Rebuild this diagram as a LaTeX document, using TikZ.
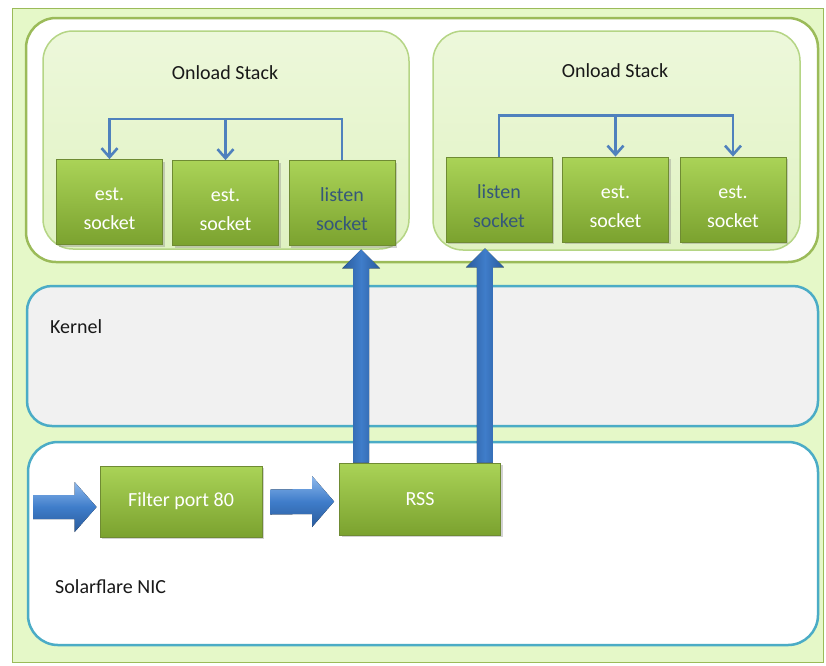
\documentclass[tikz,border=0pt]{standalone}
\usepackage{fontspec}
\setmainfont{Carlito}
\usetikzlibrary{calc,arrows.meta,shadows}
\definecolor{bgGreen}{HTML}{E5F8C8}
\definecolor{frameGreen}{HTML}{9BBB59}
\definecolor{stackFillTop}{HTML}{EDF8DB}
\definecolor{stackFillBot}{HTML}{E0F2C2}
\definecolor{stackLine}{HTML}{B5D585}
\definecolor{boxTop}{HTML}{AAD357}
\definecolor{boxBot}{HTML}{7BA22F}
\definecolor{boxLine}{HTML}{6F8B33}
\definecolor{kernFill}{HTML}{F1F1F1}
\definecolor{tealLine}{HTML}{4BACC6}
\definecolor{linkBlue}{HTML}{4F81BD}
\definecolor{darkBlue}{HTML}{2A5B9C}
\definecolor{midBlue}{HTML}{3F7DCA}
\definecolor{lightBlue}{HTML}{8DB8EC}
\definecolor{listenText}{HTML}{35577A}
\newcommand\myUpArrow[2]{%
  \fill[vblock] ($(#1)+(-8,0)$) -- ($(#2)+(-8,19)$) -- ($(#2)+(-19,19)$) -- (#2)
    -- ($(#2)+(19,19)$) -- ($(#2)+(8,19)$) -- ($(#1)+(8,0)$) -- cycle;}
\newcommand\myRightArrow[4]{% from, to, shaft half, head half
  \fill[hblock] ($(#1)+(0,-#3)$) -- ($(#2)+(-22,-#3)$) -- ($(#2)+(-22,-#4)$) -- (#2)
    -- ($(#2)+(-22,#4)$) -- ($(#2)+(-22,#3)$) -- ($(#1)+(0,#3)$) -- cycle;}
\newcommand\twoline[2]{\rule{0pt}{27pt}#1\\#2}
\tikzset{
  lbl/.style={font=\fontsize{20}{24}\selectfont, text=black!90, inner sep=0pt},
  greenbox/.style={draw=boxLine, line width=0.8pt, top color=boxTop, bottom color=boxBot,
    align=center, text=white, font=\fontsize{20}{29}\selectfont, inner sep=2pt,
    drop shadow={opacity=0.35, shadow xshift=2pt, shadow yshift=-2pt}},
  sockbox/.style={greenbox, minimum width=106pt, minimum height=85pt},
  listenbox/.style={sockbox, text=listenText},
  stackbox/.style={draw=stackLine, line width=1.5pt, top color=stackFillTop, bottom color=stackFillBot,
    rounded corners=30pt},
  bracketline/.style={draw=linkBlue, line width=2.6pt, -{Straight Barb[length=9pt,width=16pt]}},
  vblock/.style={left color=darkBlue, right color=darkBlue, middle color=midBlue},
  hblock/.style={top color=lightBlue, bottom color=darkBlue, middle color=midBlue},
}
\begin{document}
\begin{tikzpicture}[x=1pt,y=-1pt]
\useasboundingbox (0,0) rectangle (826,665);
% outer background
\draw[fill=bgGreen, draw=frameGreen, line width=1pt] (12,8) rectangle (823,662);
% top container
\draw[fill=white, draw=frameGreen, line width=2.5pt, rounded corners=30pt] (26,18) rectangle (818,262);
% onload stacks
\draw[stackbox] (43,31) rectangle (409,249);
\draw[stackbox] (433,31) rectangle (800,250);
\node[lbl] (os1) at (225,73) {Onload Stack};
\node[lbl] (os2) at (615,71) {Onload Stack};
% sockets
\node[sockbox] (e1L) at (109.5,202) {\twoline{est.}{socket}};
\node[sockbox] (e2L) at (225.5,203) {\twoline{est.}{socket}};
\node[listenbox] (lsL) at (342,203) {\twoline{listen}{socket}};
\node[listenbox] (lsR) at (499,199.5) {\twoline{listen}{socket}};
\node[sockbox] (e1R) at (615.5,199.5) {\twoline{est.}{socket}};
\node[sockbox] (e2R) at (733,199.5) {\twoline{est.}{socket}};
% brackets
\draw[bracketline] (lsL.north) -- ++(0,-41) coordinate (bL) -| (e1L.north);
\draw[bracketline] (e2L.north |- bL) -- (e2L.north);
\draw[bracketline] (lsR.north) -- ++(0,-41) coordinate (bR) -| (e2R.north);
\draw[bracketline] (e1R.north |- bR) -- (e1R.north);
% kernel
\draw[fill=kernFill, draw=tealLine, line width=2.5pt, rounded corners=25pt] (27,286) rectangle (818,426);
\node[lbl, anchor=west] (kern) at (50,327) {Kernel};
% NIC
\draw[fill=white, draw=tealLine, line width=2.5pt, rounded corners=30pt] (28,442) rectangle (818,645);
\node[lbl, anchor=west] (nic) at (55,587) {Solarflare NIC};
\node[greenbox, minimum width=162pt, minimum height=71pt] (filter) at (181,501.5) {Filter port 80};
\node[greenbox, minimum width=161pt, minimum height=72pt] (rss) at (420,499) {RSS};
% block arrows
\coordinate (in) at (33,507);
\coordinate (inTip) at ($(filter.west)+(-3,5.5)$);
\myRightArrow{in}{inTip}{12}{25}
\coordinate (f2s) at ($(filter.east)+(8,0.5)$);
\coordinate (f2sTip) at ($(rss.west)+(-5,2.5)$);
\myRightArrow{f2s}{f2sTip}{12.5}{25.5}
% vertical arrows
\coordinate (upL) at ($(rss.north west)+(22,0)$);
\coordinate (upLTip) at ($(upL |- lsL.south)+(0,3.5)$);
\myUpArrow{upL}{upLTip}
\coordinate (upR) at ($(rss.north east)+(-16,0)$);
\coordinate (upRTip) at ($(upR |- lsR.south)+(0,6)$);
\myUpArrow{upR}{upRTip}
\end{tikzpicture}
\end{document}
